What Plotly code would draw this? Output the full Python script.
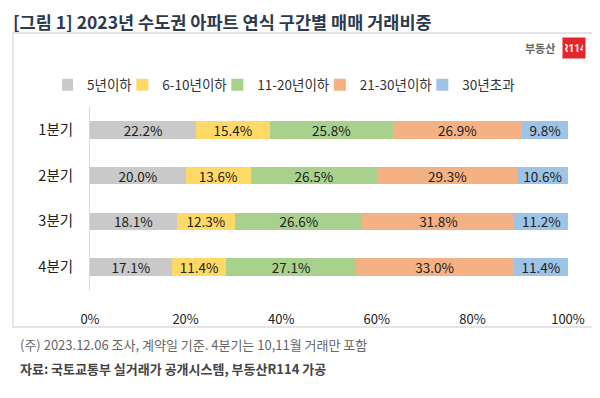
import plotly.graph_objects as go

quarters = ["1분기", "2분기", "3분기", "4분기"]
series_names = ["5년이하", "6-10년이하", "11-20년이하", "21-30년이하", "30년초과"]
v_5 = [22.2, 20.0, 18.1, 17.1]
v_6_10 = [15.4, 13.6, 12.3, 11.4]
v_11_20 = [25.8, 26.5, 26.6, 27.1]
v_21_30 = [26.9, 29.3, 31.8, 33.0]
v_30 = [9.8, 10.6, 11.2, 11.4]
series_values = [v_5, v_6_10, v_11_20, v_21_30, v_30]
colors = ["#C9C9C9", "#FFD966", "#A9D18E", "#F4B183", "#9DC3E6"]
tick_vals = [0, 20, 40, 60, 80, 100]
tick_text = ["0%", "20%", "40%", "60%", "80%", "100%"]

FONT = "Noto Sans CJK KR"

fig = go.Figure()
for name, vals, col in zip(series_names, series_values, colors):
    fig.add_trace(go.Bar(
        y=quarters, x=vals, name=name, orientation="h",
        marker=dict(color=col, line=dict(width=0)),
        text=[f"{v:.1f}%" for v in vals], textposition="inside",
        insidetextanchor="middle", constraintext="none",
        textfont=dict(family=FONT, size=13.5, color="#222222"),
        hoverinfo="skip",
    ))

# page offset of the rendered figure (browser default body margin)
OFF = 8
W, H = 600, 398
L = 90 - OFF
T = 107 - OFF
pw, ph = 478, 183
R = W - L - pw
B = H - T - ph


def px(x):
    return (x - OFF - L) / pw


def py(y):
    return (T + ph - (y - OFF)) / ph


fig.update_layout(
    width=W, height=H, barmode="stack", bargap=0.62,
    margin=dict(l=L, r=R, t=T, b=B, autoexpand=False),
    uniformtext=dict(mode="show", minsize=13.5),
    paper_bgcolor="white", plot_bgcolor="white",
    font=dict(family=FONT, size=13, color="#222222"),
    showlegend=True,
    legend=dict(orientation="h", x=px(62), xanchor="left", y=py(85), yanchor="middle",
                font=dict(family=FONT, size=13.5, color="#333333"),
                itemwidth=30, indentation=-15, traceorder="normal", tracegroupgap=0,
                itemclick=False, itemdoubleclick=False),
    xaxis=dict(range=[0, 100], tickvals=tick_vals, ticktext=tick_text, showgrid=False,
               zeroline=False, showline=False, ticks="", ticklabelstandoff=20, automargin=False,
               tickfont=dict(family=FONT, size=13, color="#222222"), fixedrange=True),
    yaxis=dict(categoryorder="array", categoryarray=quarters, autorange="reversed",
               showgrid=False, zeroline=False, showline=True, linecolor="#D9D9D9", linewidth=1,
               ticks="", ticklabelstandoff=13, automargin=False,
               tickfont=dict(family=FONT, size=14.5, color="#222222"), fixedrange=True),
    shapes=[dict(type="rect", xref="paper", yref="paper", x0=px(13), x1=px(593),
                 y0=py(327), y1=py(33), line=dict(color="#DDDDDD", width=1.5), fillcolor="rgba(0,0,0,0)")],
    annotations=[
        dict(text="<b>[그림 1] 2023년 수도권 아파트 연식 구간별 매매 거래비중</b>", xref="paper", yref="paper",
             x=px(12), y=py(OFF), xanchor="left", yanchor="top", showarrow=False, borderpad=0,
             font=dict(family=FONT, size=17.5, color="#2B3A4C")),
        dict(text="<b>부동산</b>", xref="paper", yref="paper", x=px(557), y=py(48),
             xanchor="right", yanchor="middle", showarrow=False,
             font=dict(family=FONT, size=11, color="#666666")),
        dict(text="<b>R114</b>", xref="paper", yref="paper", x=px(562), y=py(48),
             xanchor="left", yanchor="middle", showarrow=False, bgcolor="#E3262C",
             width=18, height=16, borderpad=2,
             font=dict(family="Liberation Sans Narrow, Roboto", size=10, color="white")),
        dict(text="(주) 2023.12.06 조사, 계약일 기준. 4분기는 10,11월 거래만 포함", xref="paper", yref="paper",
             x=px(18), y=py(344), xanchor="left", yanchor="middle", showarrow=False,
             font=dict(family=FONT, size=13, color="#666666")),
        dict(text="<b>자료: 국토교통부 실거래가 공개시스템, 부동산R114 가공</b>", xref="paper", yref="paper",
             x=px(18), y=py(368), xanchor="left", yanchor="middle", showarrow=False,
             font=dict(family=FONT, size=13, color="#444444")),
    ],
)

fig.write_html("out.html")
